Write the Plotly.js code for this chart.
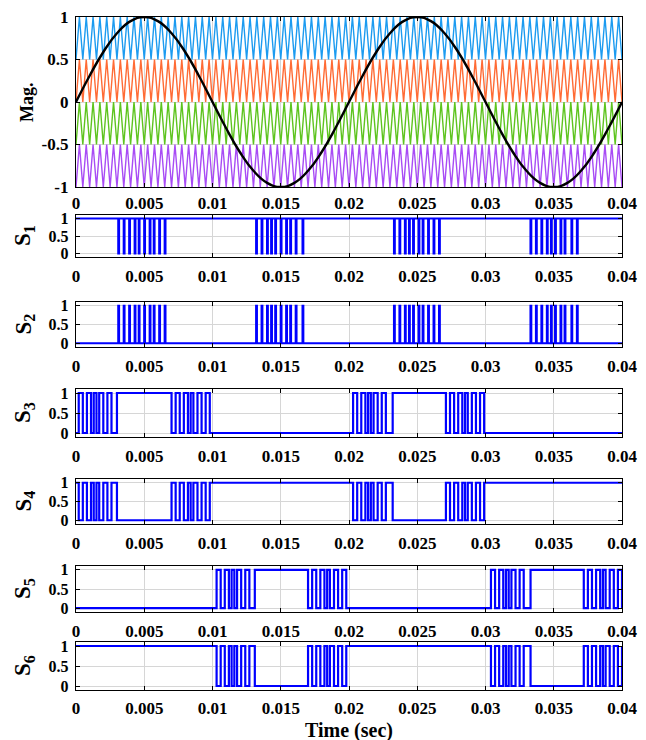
<!DOCTYPE html>
<html>
<head>
<meta charset="utf-8">
<script src="https://cdn.plot.ly/plotly-3.0.1.min.js"></script>
<style>html,body{margin:0;padding:0;background:#fff;}#chart{width:646px;height:740px;}</style>
</head>
<body>
<div id="chart"></div>
<script>
// ---------------- DATA ----------------
const xTickVals = [0, 0.005, 0.01, 0.015, 0.02, 0.025, 0.03, 0.035, 0.04];
const xTickText = ["0", "0.005", "0.01", "0.015", "0.02", "0.025", "0.03", "0.035", "0.04"];
const magTickVals = [-1, -0.5, 0, 0.5, 1];
const magTickText = ["-1", "-0.5", "0", "0.5", "1"];
const swTickVals = [0, 0.5, 1];
const swTickText = ["0", "0.5", "1"];

// reference sine (read at 1 ms steps)
const sineTimeMs = [0,1,2,3,4,5,6,7,8,9,10,11,12,13,14,15,16,17,18,19,20,21,22,23,24,25,26,27,28,29,30,31,32,33,34,35,36,37,38,39,40];
const sineValues = [0,0.309,0.588,0.809,0.951,1,0.951,0.809,0.588,0.309,0,-0.309,-0.588,-0.809,-0.951,-1,-0.951,-0.809,-0.588,-0.309,
                    0,0.309,0.588,0.809,0.951,1,0.951,0.809,0.588,0.309,0,-0.309,-0.588,-0.809,-0.951,-1,-0.951,-0.809,-0.588,-0.309,0];

// triangular carrier vertex times (ms), alternating bottom/top of each band
const carrierTimeMs = [0,0.25,0.5,0.75,1,1.25,1.5,1.75,2,2.25,2.5,2.75,3,3.25,3.5,3.75,4,4.25,4.5,4.75,5,5.25,5.5,5.75,6,6.25,6.5,6.75,7,7.25,7.5,7.75,8,8.25,8.5,8.75,9,9.25,9.5,9.75,10,10.25,10.5,10.75,11,11.25,11.5,11.75,12,12.25,12.5,12.75,13,13.25,13.5,13.75,14,14.25,14.5,14.75,15,15.25,15.5,15.75,16,16.25,16.5,16.75,17,17.25,17.5,17.75,18,18.25,18.5,18.75,19,19.25,19.5,19.75,20,20.25,20.5,20.75,21,21.25,21.5,21.75,22,22.25,22.5,22.75,23,23.25,23.5,23.75,24,24.25,24.5,24.75,25,25.25,25.5,25.75,26,26.25,26.5,26.75,27,27.25,27.5,27.75,28,28.25,28.5,28.75,29,29.25,29.5,29.75,30,30.25,30.5,30.75,31,31.25,31.5,31.75,32,32.25,32.5,32.75,33,33.25,33.5,33.75,34,34.25,34.5,34.75,35,35.25,35.5,35.75,36,36.25,36.5,36.75,37,37.25,37.5,37.75,38,38.25,38.5,38.75,39,39.25,39.5,39.75,40];
const carrierBandLow  = [0.5, 0, -0.5, -1];
const carrierBandHigh = [1, 0.5, 0, -0.5];
const carrierNames = ["Carrier 1", "Carrier 2", "Carrier 3", "Carrier 4"];

// S1: narrow notches down to 0 (times in s); S2 is its complement
const s1Notches = [0.0031,0.0035,0.0039,0.0043,0.0046,0.0050,0.0054,0.0057,0.0061,0.0065,
                   0.0132,0.0136,0.0140,0.0143,0.0146,0.0150,0.0154,0.0157,0.0161,0.0166,
                   0.0233,0.0237,0.0241,0.0244,0.0247,0.0251,0.0254,0.0258,0.0262,0.0266,
                   0.0333,0.0337,0.0341,0.0345,0.0348,0.0351,0.0355,0.0358,0.0363,0.0367];
const s1Start = 1;
// S3: toggle times (s); S4 is its complement
const s3Toggles = [0.0002,0.0005,0.0008,0.0011,0.0013,0.0015,0.0017,0.0020,0.0023,0.0026,0.0030,
                   0.0070,0.0073,0.0076,0.0079,0.0082,0.0084,0.0086,0.0089,0.0092,0.0095,0.0098,
                   0.0203,0.0206,0.0209,0.0212,0.0214,0.0216,0.0218,0.0221,0.0224,0.0227,0.0232,
                   0.0271,0.0274,0.0277,0.0280,0.0283,0.0285,0.0287,0.0290,0.0293,0.0296,0.0299];
const s3Start = 0;
// S5: toggle times (s); S6 is its complement
const s5Toggles = [0.0103,0.0106,0.0109,0.0112,0.0114,0.0116,0.0118,0.0121,0.0124,0.0127,0.0131,
                   0.0170,0.0173,0.0176,0.0179,0.0182,0.0184,0.0186,0.0189,0.0192,0.0195,0.0198,
                   0.0304,0.0307,0.0310,0.0313,0.0315,0.0317,0.0319,0.0322,0.0325,0.0328,0.0333,
                   0.0372,0.0375,0.0378,0.0381,0.0384,0.0386,0.0388,0.0391,0.0394,0.0397,0.0400];
const s5Start = 0;
const switchLabels = ["S<sub>1</sub>","S<sub>2</sub>","S<sub>3</sub>","S<sub>4</sub>","S<sub>5</sub>","S<sub>6</sub>"];

// ---------------- STYLE ----------------
const carrierColors = ["#1c9bf0", "#ff6b35", "#5ec41f", "#a84cf5"];
const FONT = "Liberation Serif, Times New Roman, serif";
const W = 646, H = 740, ML = 76, MR = 24;
// panel boxes in pixels [top, bottom]
const boxes = [[17,187],[215,257],[302,347],[389,437],[479,524],[566,612],[642,690]];
const notchWidth = 0.00005;
const tEnd = 0.04;

function stepSeries(start, toggles) {
  const x = [0], y = [start];
  let lvl = start;
  toggles.forEach(t => { lvl = 1 - lvl; x.push(t); y.push(lvl); });
  x.push(tEnd); y.push(lvl);
  return {x, y};
}
const s1Toggles = [];
s1Notches.forEach(t => { s1Toggles.push(t, t + notchWidth); });

const traces = [];
for (let k = 0; k < 4; k++) {
  traces.push({
    x: carrierTimeMs.map(t => t / 1000),
    y: carrierTimeMs.map((t, i) => (i % 2 === 0 ? carrierBandLow[k] : carrierBandHigh[k])),
    type: "scatter", mode: "lines", name: carrierNames[k],
    line: {color: carrierColors[k], width: 1.4},
    xaxis: "x", yaxis: "y", hoverinfo: "skip"
  });
}
traces.push({
  x: sineTimeMs.map(t => t / 1000), y: sineValues,
  type: "scatter", mode: "lines", name: "Reference",
  line: {color: "#000", width: 2.4, shape: "spline", smoothing: 1.3},
  xaxis: "x", yaxis: "y"
});

const sigs = [
  stepSeries(s1Start, s1Toggles),
  stepSeries(1 - s1Start, s1Toggles),
  stepSeries(s3Start, s3Toggles),
  stepSeries(1 - s3Start, s3Toggles),
  stepSeries(s5Start, s5Toggles),
  stepSeries(1 - s5Start, s5Toggles)
];
sigs.forEach((s, i) => {
  traces.push({
    x: s.x, y: s.y, type: "scatter", mode: "lines", name: "S" + (i + 1),
    line: {color: "#0000ff", width: 2.2, shape: "hv"},
    xaxis: "x" + (i + 2), yaxis: "y" + (i + 2)
  });
});

const xTickFont = {family: FONT, size: 17, color: "#000", weight: "bold"};
const magTickFont = {family: FONT, size: 17, color: "#000", weight: "bold"};
const swTickFont = {family: FONT, size: 16, color: "#000", weight: "bold"};
function xAxis(anchor, standoff) {
  return {
    domain: [0, 1], anchor: anchor, range: [0, tEnd],
    tickmode: "array", tickvals: xTickVals, ticktext: xTickText,
    ticks: "inside", ticklen: 4, tickwidth: 1, tickcolor: "#000",
    showline: true, linecolor: "#000", linewidth: 1.2, mirror: "allticks",
    showgrid: true, gridcolor: "#d6d6d6", gridwidth: 1, zeroline: false,
    tickfont: xTickFont, ticklabelstandoff: standoff, automargin: false
  };
}
function yAxis(anchor, dom, range, vals, text, font) {
  return {
    domain: dom, anchor: anchor, range: range,
    tickmode: "array", tickvals: vals, ticktext: text,
    ticks: "inside", ticklen: 4, tickwidth: 1, tickcolor: "#000",
    showline: true, linecolor: "#000", linewidth: 1.2, mirror: "allticks",
    showgrid: true, gridcolor: "#d6d6d6", gridwidth: 1, zeroline: false,
    tickfont: font, ticklabelstandoff: 3, automargin: false
  };
}
const doms = boxes.map(b => [(H - b[1]) / H, (H - b[0]) / H]);

const layout = {
  width: W, height: H,
  margin: {l: ML, r: MR, t: 0, b: 0},
  paper_bgcolor: "#fff", plot_bgcolor: "#fff",
  showlegend: false,
  font: {family: FONT, color: "#000"},
  annotations: []
};
layout.xaxis = xAxis("y", 0);
layout.yaxis = yAxis("x", doms[0], [-1, 1], magTickVals, magTickText, magTickFont);
for (let i = 0; i < 6; i++) {
  layout["xaxis" + (i + 2)] = xAxis("y" + (i + 2), i === 5 ? 2 : 3);
  layout["yaxis" + (i + 2)] = yAxis("x" + (i + 2), doms[i + 1], [-0.1, 1.1], swTickVals, swTickText, swTickFont);
}
const pw = W - ML - MR;
layout.annotations.push({
  text: "Mag.", xref: "paper", yref: "paper",
  x: (27 - ML) / pw, y: (doms[0][0] + doms[0][1]) / 2, textangle: -90,
  showarrow: false, xanchor: "center", yanchor: "middle",
  font: {family: FONT, size: 18, weight: "bold", color: "#000"}
});
for (let i = 0; i < 6; i++) {
  layout.annotations.push({
    text: switchLabels[i], xref: "paper", yref: "paper",
    x: (24 - ML) / pw, y: (doms[i + 1][0] + doms[i + 1][1]) / 2, textangle: -90,
    showarrow: false, xanchor: "center", yanchor: "middle",
    font: {family: FONT, size: 23, weight: "bold", color: "#000"}
  });
}
layout.annotations.push({
  text: "Time (sec)", xref: "paper", yref: "paper",
  x: 0.5, y: (H - 730) / H, showarrow: false, xanchor: "center", yanchor: "middle",
  font: {family: FONT, size: 20, weight: "bold", color: "#000"}
});

Plotly.newPlot("chart", traces, layout, {staticPlot: true, displayModeBar: false});
</script>
</body>
</html>
